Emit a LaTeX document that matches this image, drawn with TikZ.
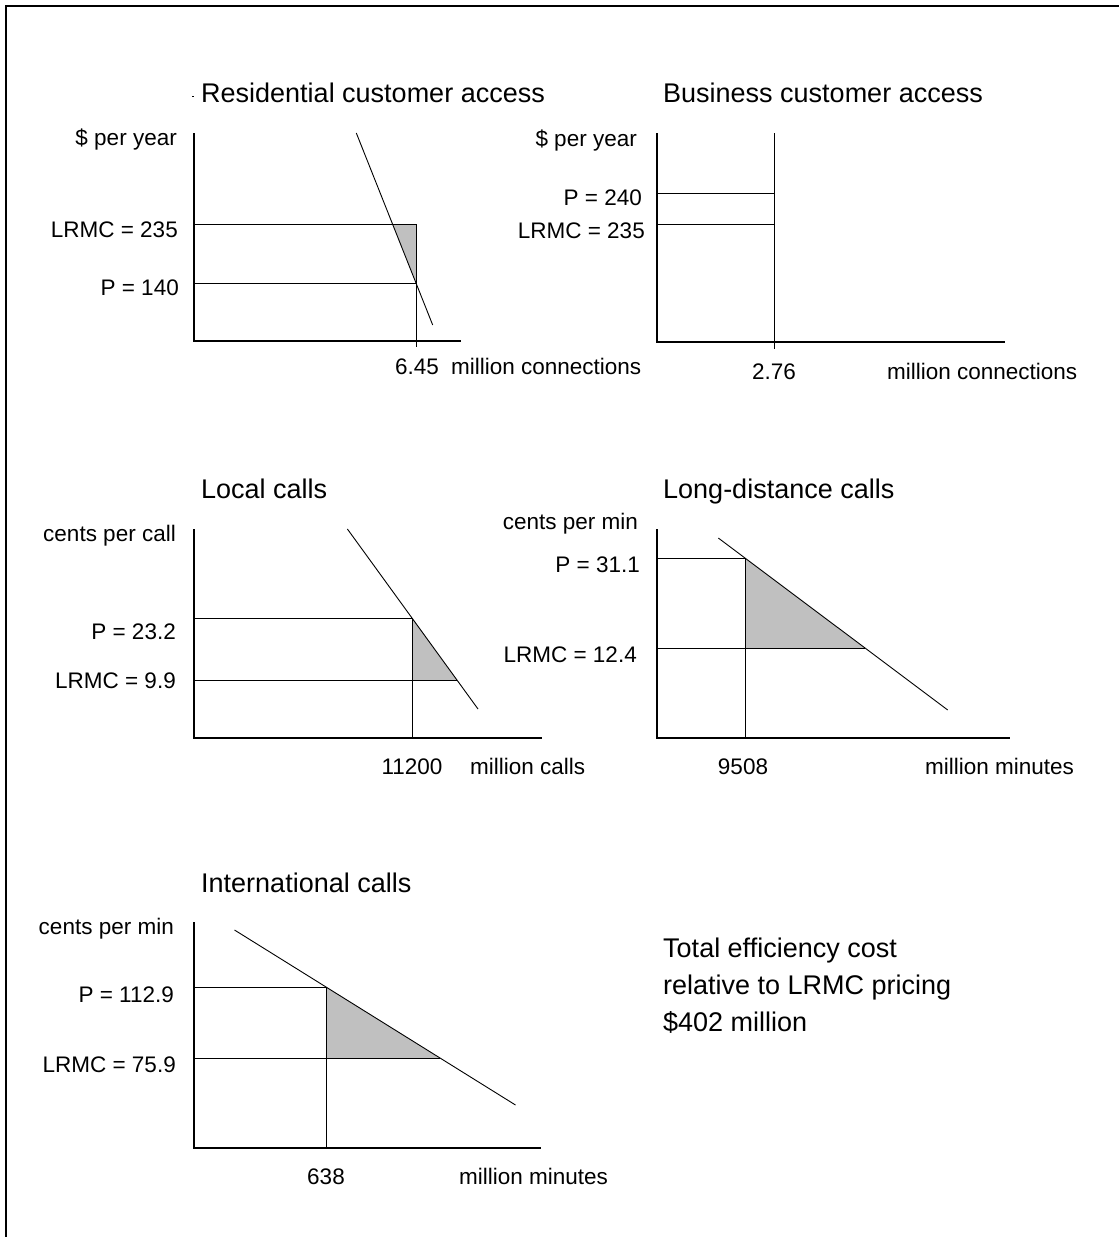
\documentclass[tikz,border=0pt]{standalone}
\usepackage{fontspec}
\setmainfont{Liberation Sans}
\definecolor{lossfill}{RGB}{192,192,192}
\begin{document}
\begin{tikzpicture}[x=1pt,y=-1pt,
  axis/.style={line width=1.2pt},
  guide/.style={line width=1pt},
  demand/.style={line width=0.9pt},
  lbl/.style={font=\fontsize{22.5}{27}\selectfont, inner sep=0pt},
  ylbl/.style={lbl, anchor=base east},
  xlbl/.style={lbl, anchor=base west},
  qlbl/.style={lbl, anchor=base},
  ttl/.style={font=\fontsize{27}{37}\selectfont, inner sep=0pt, anchor=base west},
]
\useasboundingbox (0,0) rectangle (1119,1237);
% page frame (top and left edges)
\draw[line width=2pt] (6,1237) -- (6,6) -- (1119,6);

% ---------- Residential customer access ----------
\node[ttl] (t1) at (201,102) {Residential customer access};
\draw[line width=0.8pt] (192,96) -- (194,96);
\fill[lossfill] (392.5,224) -- (416,224) -- (416,283) -- cycle;
\draw[axis] (194,133) -- (194,341) -- (461,341);
\draw[guide] (194,224) -- (416,224);
\draw[guide] (194,283) -- (416,283);
\draw[guide] (416,224) -- (416,347);
\draw[demand] (356.3,133) -- (432.7,325);
\node[ylbl] (a1) at (177,145) {\$ per year};
\node[ylbl] (c1) at (178,237) {LRMC = 235};
\node[ylbl] (p1) at (179,295) {P = 140};
\node[qlbl] (q1) at (417,374) {6.45};
\node[xlbl] (u1) at (451,374) {million connections};

% ---------- Business customer access ----------
\node[ttl] (t2) at (663,102) {Business customer access};
\draw[axis] (657,133) -- (657,342) -- (1005,342);
\draw[guide] (657,193) -- (774,193);
\draw[guide] (657,224) -- (774,224);
\draw[guide] (774,133) -- (774,349);
\node[ylbl] (a2) at (637,146) {\$ per year};
\node[ylbl] (p2) at (642,205) {P = 240};
\node[ylbl] (c2) at (645,238) {LRMC = 235};
\node[qlbl] (q2) at (774,379) {2.76};
\node[xlbl] (u2) at (887,379) {million connections};

% ---------- Local calls ----------
\node[ttl] (t3) at (201,498) {Local calls};
\fill[lossfill] (412,618) -- (457,680) -- (412,680) -- cycle;
\draw[axis] (194,529) -- (194,738) -- (542,738);
\draw[guide] (194,618) -- (412,618);
\draw[guide] (194,680) -- (457,680);
\draw[guide] (412,618) -- (412,738);
\draw[demand] (347.4,529) -- (478,709);
\node[ylbl] (a3) at (176,541) {cents per call};
\node[ylbl] (p3) at (176,639) {P = 23.2};
\node[ylbl] (c3) at (176,688) {LRMC = 9.9};
\node[qlbl] (q3) at (412,774) {11200};
\node[xlbl] (u3) at (470,774) {million calls};

% ---------- Long-distance calls ----------
\node[ttl] (t4) at (663,498) {Long-distance calls};
\fill[lossfill] (745,558) -- (865,648) -- (745,648) -- cycle;
\draw[axis] (657,529) -- (657,738) -- (1010,738);
\draw[guide] (657,558) -- (745,558);
\draw[guide] (657,648) -- (865,648);
\draw[guide] (745,558) -- (745,738);
\draw[demand] (718.3,538) -- (947.7,710);
\node[ylbl] (a4) at (638,529) {cents per min};
\node[ylbl] (p4) at (640,572) {P = 31.1};
\node[ylbl] (c4) at (637,662) {LRMC = 12.4};
\node[qlbl] (q4) at (743,774) {9508};
\node[xlbl] (u4) at (925,774) {million minutes};

% ---------- International calls ----------
\node[ttl] (t5) at (201,892) {International calls};
\fill[lossfill] (326,987) -- (440,1058) -- (326,1058) -- cycle;
\draw[axis] (194,922) -- (194,1148) -- (541,1148);
\draw[guide] (194,987) -- (326,987);
\draw[guide] (194,1058) -- (440,1058);
\draw[guide] (326,987) -- (326,1148);
\draw[demand] (234.5,930) -- (515.5,1105);
\node[ylbl] (a5) at (174,934) {cents per min};
\node[ylbl] (p5) at (174,1002) {P = 112.9};
\node[ylbl] (c5) at (176,1072) {LRMC = 75.9};
\node[qlbl] (q5) at (326,1184) {638};
\node[xlbl] (u5) at (459,1184) {million minutes};

% ---------- summary ----------
\node[ttl] (s1) at (663,957) {Total efficiency cost};
\node[ttl] (s2) at (663,994) {relative to LRMC pricing};
\node[ttl] (s3) at (663,1031) {\$402 million};
\end{tikzpicture}
\end{document}
